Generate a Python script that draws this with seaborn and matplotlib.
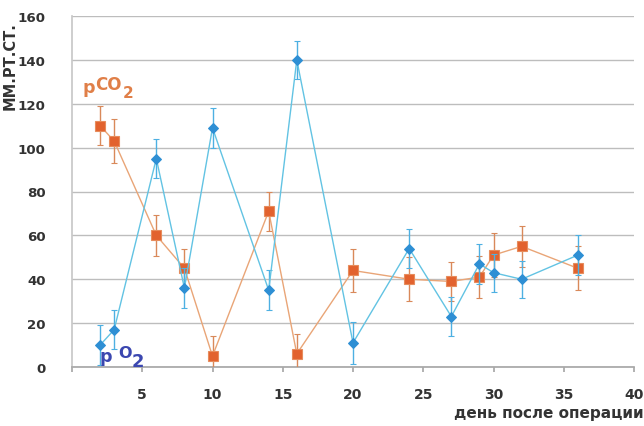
import matplotlib
matplotlib.use("Agg")
import matplotlib.pyplot as plt
import seaborn as sns
import pandas as pd

days_co2 = [2, 3, 6, 8, 10, 14, 16, 20, 24, 27, 29, 30, 32, 36]
pco2 = [110, 103, 60, 45, 5, 71, 6, 44, 40, 39, 41, 51, 55, 45]
pco2_err = [9, 10, 9.5, 9, 9, 9, 9, 10, 10, 9, 9.5, 10, 9.5, 10]

days_o2 = [2, 3, 6, 8, 10, 14, 16, 20, 24, 27, 29, 30, 32, 36]
po2 = [10, 17, 95, 36, 109, 35, 140, 11, 54, 23, 47, 43, 40, 51]
po2_err = [9, 9, 9, 9, 9, 9, 8.5, 9.5, 9, 9, 9, 8.7, 8.5, 9]

y_ticks = [0, 20, 40, 60, 80, 100, 120, 140, 160]
x_ticks = [0, 5, 10, 15, 20, 25, 30, 35, 40]
x_ticklabels = ["", "5", "10", "15", "20", "25", "30", "35", "40"]

sns.set_theme(style="white")
plt.rcParams['font.family'] = ['DejaVu Sans']

W, H = 644, 427
fig = plt.figure(figsize=(6.44, 4.27), dpi=100)
ax = fig.add_axes([72 / W, 1 - 368 / H, (634 - 72) / W, (368 - 17) / H])

df_co2 = pd.DataFrame({"day": days_co2, "val": pco2})
df_o2 = pd.DataFrame({"day": days_o2, "val": po2})

ax.errorbar(days_co2, pco2, yerr=pco2_err, fmt='none', ecolor='#D9895A',
            elinewidth=1.0, capsize=2.5, capthick=0.8, zorder=3)
sns.lineplot(data=df_co2, x="day", y="val", ax=ax, color='#E9A577', lw=1.0,
             marker='s', markersize=7.5, markerfacecolor='#E2622E',
             markeredgecolor='#E78C5C', markeredgewidth=0.8, zorder=4)

ax.errorbar(days_o2, po2, yerr=po2_err, fmt='none', ecolor='#4DB0E2',
            elinewidth=1.0, capsize=2.5, capthick=0.8, zorder=5)
sns.lineplot(data=df_o2, x="day", y="val", ax=ax, color='#62C3E3', lw=1.0,
             marker='D', markersize=4.6, markerfacecolor='#2E8FD4',
             markeredgecolor='#2E8FD4', zorder=6)

ax.set_xlim(0, 40)
ax.set_ylim(0, 160)
ax.set_yticks(y_ticks)
ax.set_xticks(x_ticks)
ax.set_xticklabels(x_ticklabels)
ax.grid(axis='y', color='#BDBDBD', lw=1.0)
ax.grid(axis='x', visible=False)
for s in ['top', 'right']:
    ax.spines[s].set_visible(False)
ax.spines['left'].set_color('#C8C8C8')
ax.spines['bottom'].set_color('#A8A8A8')
ax.tick_params(axis='x', which='both', bottom=True, length=3.6, color='#A8A8A8',
               labelsize=10, labelcolor='#333333', pad=10.5)
ax.tick_params(axis='y', left=False, labelsize=9.6, labelcolor='#333333', pad=13)
for lab in ax.get_xticklabels() + ax.get_yticklabels():
    lab.set_fontweight('bold')
ax.set_xlabel("")
ax.set_ylabel("")

fig.text(10.5 / W, 1 - 66 / H, "ММ.РТ.СТ.", rotation=90, ha='center', va='center',
         fontsize=10.5, fontweight='bold', color='#333333')
fig.text(1.0, 1 - 418 / H, "день после операции", ha='right', va='baseline',
         fontsize=11, fontweight='bold', color='#333333')

# pCO2 label
orange_txt = '#E07F48'
fig.text(83 / W, 1 - 93 / H, "p", fontsize=12.5, fontweight='bold', color=orange_txt,
         ha='left', va='baseline')
fig.text(95 / W, 1 - 90 / H, "CO", fontsize=12, fontweight='bold', color=orange_txt,
         ha='left', va='baseline')
fig.text(123 / W, 1 - 97.5 / H, "2", fontsize=11, fontweight='bold', color=orange_txt,
         ha='left', va='baseline')

# pO2 label
blue_txt = '#3B47B0'
fig.text(99 / W, 1 - 362 / H, "p", fontsize=12.5, fontweight='bold', color=blue_txt,
         ha='left', va='baseline')
fig.text(118 / W, 1 - 358 / H, "O", fontsize=11.5, fontweight='bold', color=blue_txt,
         ha='left', va='baseline')
fig.text(132 / W, 1 - 367 / H, "2", fontsize=13, fontweight='bold', color=blue_txt,
         ha='left', va='baseline')

fig.savefig("out.png", dpi=100)
